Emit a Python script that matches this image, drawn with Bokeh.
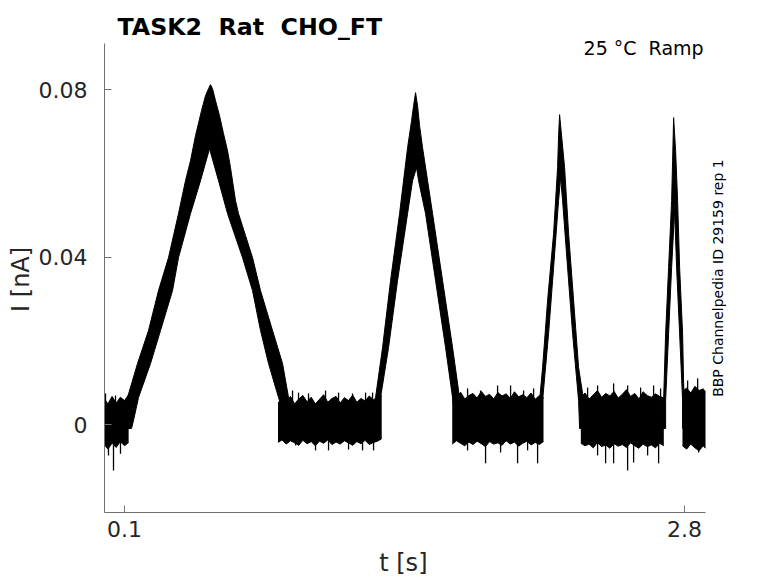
import math
from bokeh.plotting import figure
from bokeh.models import Range1d, FixedTicker, Label
from bokeh.embed import file_html
from bokeh.resources import INLINE

# ---------------- data ----------------
x_ticks = [0.1, 2.8]
x_tick_labels = ["0.1", "2.8"]
y_ticks = [0.0, 0.04, 0.08]
y_tick_labels = ["0", "0.04", "0.08"]
x_axis_span = (0.0036, 2.901)
y_axis_span = (-0.02094, 0.0911)

# baseline stretches: time [s], upper and lower edge of the noisy trace [nA]
base_a_t = [0.004, 0.02, 0.04, 0.06, 0.08, 0.10, 0.12]
base_a_hi = [0.0062, 0.0050, 0.0068, 0.0052, 0.0066, 0.0058, 0.0072]
base_a_lo = [-0.0048, -0.0058, -0.0044, -0.0054, -0.0040, -0.0050, -0.0042]

base_b_t = [0.84, 0.86, 0.88, 0.90, 0.92, 0.94, 0.96, 0.98, 1.00, 1.02, 1.04, 1.06, 1.08,
            1.10, 1.12, 1.14, 1.16, 1.18, 1.20, 1.22, 1.24, 1.26, 1.28, 1.30, 1.32, 1.34]
base_b_hi = [0.0052, 0.0064, 0.0056, 0.0068, 0.0050, 0.0062, 0.0070, 0.0055, 0.0066, 0.0050,
             0.0061, 0.0072, 0.0054, 0.0063, 0.0068, 0.0052, 0.0065, 0.0058, 0.0071, 0.0054,
             0.0063, 0.0057, 0.0069, 0.0060, 0.0066, 0.0070]
base_b_lo = [-0.0042, -0.0036, -0.0046, -0.0038, -0.0043, -0.0049, -0.0037, -0.0045, -0.0040,
             -0.0050, -0.0039, -0.0044, -0.0036, -0.0047, -0.0041, -0.0046, -0.0038, -0.0043,
             -0.0049, -0.0040, -0.0045, -0.0037, -0.0047, -0.0042, -0.0039, -0.0033]

base_c_t = [1.68, 1.70, 1.72, 1.74, 1.76, 1.78, 1.80, 1.82, 1.84, 1.86, 1.88, 1.90,
            1.92, 1.94, 1.96, 1.98, 2.00, 2.02, 2.04, 2.06, 2.08, 2.10, 2.12]
base_c_hi = [0.0072, 0.0066, 0.0078, 0.0062, 0.0070, 0.0075, 0.0064, 0.0080, 0.0068, 0.0073,
             0.0062, 0.0077, 0.0069, 0.0074, 0.0063, 0.0079, 0.0067, 0.0072, 0.0065, 0.0076,
             0.0061, 0.0070, 0.0066]
base_c_lo = [-0.0046, -0.0038, -0.0044, -0.0050, -0.0041, -0.0047, -0.0039, -0.0045, -0.0052,
             -0.0040, -0.0046, -0.0043, -0.0049, -0.0038, -0.0046, -0.0041, -0.0051, -0.0044,
             -0.0039, -0.0048, -0.0042, -0.0047, -0.0040]

base_d_t = [2.30, 2.32, 2.34, 2.36, 2.38, 2.40, 2.42, 2.44, 2.46, 2.48, 2.50,
            2.52, 2.54, 2.56, 2.58, 2.60, 2.62, 2.64, 2.66, 2.68, 2.70]
base_d_hi = [0.0066, 0.0076, 0.0062, 0.0072, 0.0082, 0.0066, 0.0075, 0.0069, 0.0080, 0.0064,
             0.0073, 0.0084, 0.0068, 0.0075, 0.0062, 0.0079, 0.0070, 0.0066, 0.0074, 0.0068,
             0.0064]
base_d_lo = [-0.0044, -0.0050, -0.0046, -0.0055, -0.0042, -0.0052, -0.0048, -0.0056, -0.0045,
             -0.0051, -0.0047, -0.0054, -0.0043, -0.0050, -0.0056, -0.0046, -0.0052, -0.0048,
             -0.0055, -0.0044, -0.0050]

base_e_t = [2.79, 2.81, 2.83, 2.85, 2.87, 2.89, 2.901]
base_e_hi = [0.0080, 0.0088, 0.0076, 0.0092, 0.0082, 0.0086, 0.0078]
base_e_lo = [-0.0050, -0.0058, -0.0046, -0.0055, -0.0062, -0.0050, -0.0056]

# ramp responses: outline of each noisy triangular band (time [s], current [nA])
peak1_t = [0.0855, 0.0952, 0.1145, 0.1627, 0.2157, 0.2639, 0.3122, 0.3604, 0.3941, 0.4183,
           0.4424, 0.4713, 0.4906, 0.5050, 0.5147,
           0.5243, 0.5388, 0.5581, 0.5774, 0.5967, 0.6111, 0.6352, 0.6497, 0.6835, 0.7172,
           0.7558, 0.7847, 0.8137, 0.8619, 0.8908, 0.9101, 0.9246,
           0.8812, 0.8667, 0.8426, 0.7944, 0.7558, 0.7172, 0.6690, 0.5967, 0.5533, 0.5099,
           0.4665, 0.4183, 0.3604, 0.3315, 0.2736, 0.2254, 0.1675, 0.1434, 0.1338]
peak1_i = [-0.00088, 0.00103, 0.00652, 0.01464, 0.02252, 0.03207, 0.03995, 0.05046, 0.05834,
           0.06311, 0.06908, 0.07505, 0.07864, 0.08031, 0.08127,
           0.08031, 0.07744, 0.07386, 0.06956, 0.06550, 0.06144, 0.05356, 0.05046, 0.04520,
           0.03995, 0.03207, 0.02729, 0.02252, 0.01464, 0.00652, 0.00222, -0.00088,
           -0.00088, 0.00270, 0.00652, 0.01464, 0.02252, 0.03207, 0.03995, 0.05046, 0.05834,
           0.06598,
           0.05834, 0.05046, 0.03995, 0.03207, 0.02252, 0.01464, 0.00652, 0.00103, -0.00088]

peak2_t = [1.3007, 1.3103, 1.3441, 1.3827, 1.4261, 1.4647, 1.4840, 1.4936, 1.5032,
           1.5128, 1.5225, 1.5370, 1.5611, 1.5852, 1.6334, 1.6816, 1.7105, 1.7250,
           1.6961, 1.6816, 1.6479, 1.5996, 1.5514, 1.5177, 1.5080,
           1.4887, 1.4647, 1.4164, 1.3730, 1.3344, 1.3296]
peak2_i = [-0.00088, 0.00652, 0.01846, 0.03446, 0.05046, 0.06622, 0.07267, 0.07625, 0.07936,
           0.07625, 0.07148, 0.06622, 0.05834, 0.05046, 0.03446, 0.01846, 0.00819, -0.00088,
           -0.00088, 0.00652, 0.01846, 0.03446, 0.05046, 0.05834, 0.06144,
           0.05834, 0.05046, 0.03446, 0.01846, 0.00652, -0.00088]

peak3_t = [2.0915, 2.1011, 2.1156, 2.1397, 2.1686, 2.1879, 2.1927, 2.1976,
           2.2072, 2.2217, 2.2410, 2.2651, 2.2892, 2.3085, 2.3181,
           2.2940, 2.2892, 2.2603, 2.2361, 2.2120, 2.2024,
           2.1927, 2.1686, 2.1445, 2.1156, 2.1108]
peak3_i = [-0.00088, 0.00580, 0.01368, 0.02969, 0.04569, 0.06144, 0.06908, 0.07410,
           0.06908, 0.06144, 0.04569, 0.02969, 0.01368, 0.00747, -0.00088,
           -0.00088, 0.00580, 0.02180, 0.03757, 0.05356, 0.05906,
           0.05356, 0.03757, 0.02180, 0.00580, -0.00088]

peak4_t = [2.6942, 2.6990, 2.7087, 2.7231, 2.7376, 2.7424, 2.7473,
           2.7569, 2.7665, 2.7762, 2.7906, 2.7955, 2.8051,
           2.7906, 2.7906, 2.7762, 2.7617, 2.7521,
           2.7376, 2.7231, 2.7087, 2.7087]
peak4_i = [-0.00088, 0.00580, 0.02180, 0.03757, 0.05356, 0.06311, 0.07338,
           0.06550, 0.05356, 0.03757, 0.02180, 0.00986, -0.00088,
           -0.00088, 0.00580, 0.02180, 0.03757, 0.05117,
           0.03757, 0.02180, 0.00580, -0.00088]

# isolated noise spikes on the baseline
spike_dn_t = [0.0228, 0.0470, 0.0807, 0.9246, 1.0210, 1.0837, 1.1801, 1.2476, 1.3007, 1.7539,
              1.8407, 1.9131, 1.9950, 2.0433, 2.0915, 2.3808, 2.4194, 2.4580, 2.5255, 2.5544,
              2.6219, 2.6749, 2.8679]
spike_dn_i = [-0.0073, -0.0109, -0.0069, -0.0049, -0.0061, -0.0061, -0.0059, -0.0061, -0.0061,
              -0.0061, -0.0092, -0.0066, -0.0092, -0.0061, -0.0092, -0.0073, -0.0092, -0.0092,
              -0.0109, -0.0090, -0.0073, -0.0092, -0.0066]
spike_up_t = [0.0084, 0.0566, 0.9101, 0.9390, 0.9872, 1.0692, 1.1319, 1.1994, 1.2621, 1.2959,
              1.7539, 1.8166, 1.8986, 1.9613, 2.0240, 2.0722, 2.3326, 2.3808, 2.4580, 2.5255,
              2.5882, 2.6508, 2.6845, 2.8148, 2.8631]
spike_up_i = [0.0075, 0.0070, 0.0082, 0.0077, 0.0075, 0.0082, 0.0077, 0.0075, 0.0077, 0.0077,
              0.0087, 0.0082, 0.0094, 0.0094, 0.0082, 0.0087, 0.0089, 0.0094, 0.0099, 0.0094,
              0.0089, 0.0094, 0.0087, 0.0106, 0.0111]

NB = "\u00a0"
title_text = "TASK2" + NB + NB + "Rat" + NB + NB + "CHO_FT"
cond_text = "25 \u00b0C" + NB + NB + "Ramp"
side_text = "BBP Channelpedia ID 29159 rep 1"
x_label = "t [s]"
y_label = "I [nA]"

# ---------------- figure ----------------
FONT = "DejaVu Sans"
TXT = "#262626"
AX = "#707070"

# the frame reaches the top and right edges so that the title and side notes
# (drawn as labels) are not clipped; the axes are bounded to the data span.
p = figure(width=778, height=583, output_backend="svg", toolbar_location=None,
           x_range=Range1d(0.0036, 3.2529), y_range=Range1d(-0.02094, 0.10137),
           min_border_left=104, min_border_right=0, min_border_top=0,
           min_border_bottom=71, title=None)
p.background_fill_color = "white"
p.border_fill_color = "white"
p.outline_line_color = None
p.xgrid.visible = False
p.ygrid.visible = False

for ax in (p.xaxis[0], p.yaxis[0]):
    ax.axis_line_color = AX
    ax.axis_line_width = 1
    ax.major_tick_line_color = AX
    ax.major_tick_in = 7
    ax.major_tick_out = 0
    ax.minor_tick_line_color = None
    ax.major_label_text_font = FONT
    ax.major_label_text_font_size = "22px"
    ax.major_label_text_color = TXT
    ax.axis_label_text_font = FONT
    ax.axis_label_text_font_size = "24px"
    ax.axis_label_text_font_style = "normal"
    ax.axis_label_text_color = TXT

p.xaxis.bounds = x_axis_span
p.yaxis.bounds = y_axis_span
p.xaxis.ticker = FixedTicker(ticks=x_ticks)
p.xaxis.major_label_overrides = dict(zip(x_ticks, x_tick_labels))
p.xaxis.major_label_standoff = 8
# axis labels are centred on the (wider) frame; trailing no-break spaces
# move the visible text back to the middle of the drawn axis span
p.xaxis.axis_label = x_label + NB * 10
p.xaxis.axis_label_standoff = 9
p.yaxis.ticker = FixedTicker(ticks=y_ticks)
p.yaxis.major_label_overrides = dict(zip(y_ticks, y_tick_labels))
p.yaxis.major_label_standoff = 17
p.yaxis.axis_label = y_label + NB * 6
p.yaxis.axis_label_standoff = 1

# baseline noise bands
for bt, bhi, blo in ((base_a_t, base_a_hi, base_a_lo), (base_b_t, base_b_hi, base_b_lo),
                     (base_c_t, base_c_hi, base_c_lo), (base_d_t, base_d_hi, base_d_lo),
                     (base_e_t, base_e_hi, base_e_lo)):
    p.varea(x=bt, y1=blo, y2=bhi, fill_color="black")
    p.line(bt, bhi, line_color="black", line_width=1)
    p.line(bt, blo, line_color="black", line_width=1)

# ramp responses
for pt, pi_ in ((peak1_t, peak1_i), (peak2_t, peak2_i), (peak3_t, peak3_i), (peak4_t, peak4_i)):
    p.patch(pt, pi_, fill_color="black", line_color="black", line_width=1)

# spikes
p.segment(x0=spike_dn_t, y0=[0.0] * len(spike_dn_t), x1=spike_dn_t, y1=spike_dn_i,
          line_color="black", line_width=1.3)
p.segment(x0=spike_up_t, y0=[0.0] * len(spike_up_t), x1=spike_up_t, y1=spike_up_i,
          line_color="black", line_width=1.3)

# texts
p.add_layout(Label(x=0.0662, y=0.0950, text=title_text, text_font=FONT,
                   text_font_size="23.7px", text_font_style="bold", text_color="black",
                   text_align="left", text_baseline="alphabetic"))
p.add_layout(Label(x=2.8919, y=0.0900, text=cond_text, text_font=FONT,
                   text_font_size="19px", text_color="black",
                   text_align="right", text_baseline="alphabetic"))
p.add_layout(Label(x=2.9619, y=0.03506, text=side_text, text_font=FONT,
                   text_font_size="14px", text_color="black", angle=math.pi / 2,
                   text_align="center", text_baseline="middle"))

open("out.html", "w").write(file_html(p, INLINE))
